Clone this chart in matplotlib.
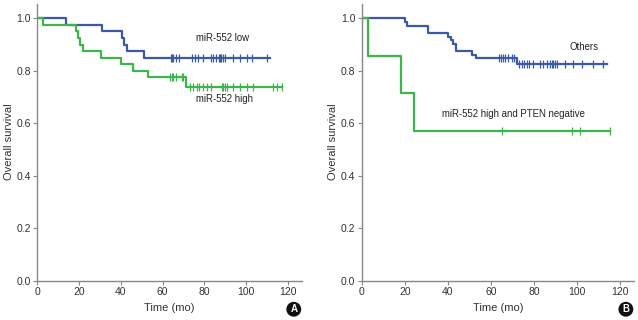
import numpy as np
import matplotlib.pyplot as plt

plt.rcParams['font.family'] = ['Liberation Sans', 'DejaVu Sans']

BLUE = '#3a5aa6'
GREEN = '#3db54a'

# panel A: miR-552 low
a_low_t = [0, 13.7, 30.8, 40.4, 41.5, 42.8, 51.1, 111.4]
a_low_s = [1.0, 0.975, 0.95, 0.925, 0.90, 0.875, 0.85, 0.85]
a_low_c = [63.9, 64.5, 65.1, 66.2, 67.8, 73.9, 75.5, 76.9, 79.5, 83.0, 84.3, 85.5,
           86.8, 87.5, 87.9, 88.7, 89.9, 93.8, 97.0, 100.2, 102.6, 109.8]

# panel A: miR-552 high
a_high_t = [0, 2.6, 18.5, 19.6, 20.4, 21.7, 30.5, 40.0, 46.0, 52.8, 71.0, 117.0]
a_high_s = [1.0, 0.975, 0.95, 0.925, 0.90, 0.875, 0.85, 0.825, 0.80, 0.775, 0.74, 0.74]
a_high_c = [63.5, 64.3, 65.1, 66.2, 69.1, 69.9, 73.1, 74.7, 76.3, 77.6, 79.2, 81.1,
            83.0, 88.3, 89.0, 89.8, 90.7, 93.8, 97.0, 100.2, 103.4, 113.0, 114.6, 117.0]

# panel B: others
b_oth_t = [0, 20.1, 21.2, 30.9, 40.2, 41.3, 42.3, 43.8, 51.1, 53.0, 72.0, 113.8]
b_oth_s = [1.0, 0.986, 0.972, 0.944, 0.930, 0.916, 0.902, 0.875, 0.861, 0.847, 0.826, 0.826]
b_oth_c = [63.9, 64.6, 65.5, 66.6, 68.1, 69.7, 70.8, 73.2, 74.3, 75.4, 76.7, 77.9,
           79.7, 82.8, 84.1, 85.9, 87.5, 88.3, 89.0, 89.8, 90.9, 94.4, 98.3, 102.2,
           107.6, 112.2]

# panel B: miR-552 high and PTEN negative
b_neg_t = [0, 2.8, 18.4, 24.3, 115.4]
b_neg_s = [1.0, 0.857, 0.714, 0.571, 0.571]
b_neg_c = [65.0, 97.8, 101.4, 115.4]


def km(ax, t, s, c, color):
    ax.plot(t, s, drawstyle='steps-post', color=color, lw=1.6)
    cy = [s[np.searchsorted(t, x, side='right') - 1] for x in c]
    ax.plot(c, cy, ls='none', marker='|', ms=5.5, mew=0.9, color=color)


fig = plt.figure(figsize=(6.38, 3.2), dpi=100)
axA = fig.add_axes([0.0585, 0.1228, 0.4144, 0.866])
axB = fig.add_axes([0.567, 0.1228, 0.4268, 0.866])

km(axA, a_low_t, a_low_s, a_low_c, BLUE)
km(axA, a_high_t, a_high_s, a_high_c, GREEN)
km(axB, b_oth_t, b_oth_s, b_oth_c, BLUE)
km(axB, b_neg_t, b_neg_s, b_neg_c, GREEN)

tkw = dict(fontsize=6.9, color='#222222', va='center')
axA.text(76, 0.925, 'miR-552 low', **tkw)
axA.text(76, 0.694, 'miR-552 high', **tkw)
axB.text(96.5, 0.89, 'Others', **tkw)
axB.text(37.5, 0.636, 'miR-552 high and PTEN negative', **tkw)

for ax, lab in [(axA, 'A'), (axB, 'B')]:
    ax.set_xlim(0, 126.6)
    ax.set_ylim(0, 1.056)
    ax.set_xticks(range(0, 121, 20))
    ax.set_yticks([0.0, 0.2, 0.4, 0.6, 0.8, 1.0])
    ax.set_yticklabels(['0.0', '0.2', '0.4', '0.6', '0.8', '1.0'])
    for sp in ['top', 'right']:
        ax.spines[sp].set_visible(False)
    for sp in ['left', 'bottom']:
        ax.spines[sp].set_color('#888888')
        ax.spines[sp].set_linewidth(1.0)
    ax.tick_params(direction='out', length=3, width=0.8, color='#888888',
                   labelsize=7.5, labelcolor='#333333', pad=1.5)
    ax.set_xlabel('Time (mo)', fontsize=8, color='#333333', labelpad=4)
    ax.set_ylabel('Overall survival', fontsize=8, color='#333333', labelpad=2)
    ax.text(0.97, -0.103, lab, transform=ax.transAxes, ha='center', va='center',
            fontsize=7, fontweight='bold', color='white',
            bbox=dict(boxstyle='circle,pad=0.25', fc='#111111', ec='none'))

fig.savefig('out.png', dpi=100)
